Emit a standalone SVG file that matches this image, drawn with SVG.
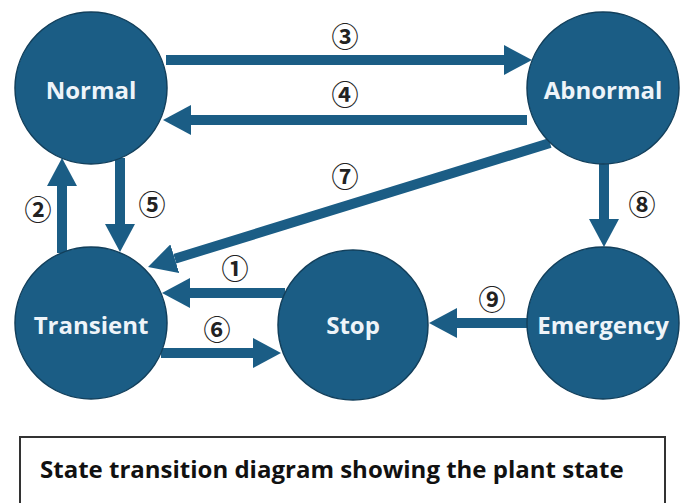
<svg xmlns="http://www.w3.org/2000/svg" width="681" height="503" viewBox="0 0 681 503">
<style>
.node{fill:#1b5d85;stroke:#123f5b;stroke-width:1.5}
.nt{font-family:"Open Sans","Noto Sans",sans-serif;font-weight:700;font-size:24px;fill:#eef4f9;text-anchor:middle;dominant-baseline:central}
.edge{stroke:#1b5d85;stroke-width:10;fill:none;marker-end:url(#ah)}
.lbl{font-family:"Noto Sans CJK JP","DejaVu Sans",sans-serif;font-weight:700;font-size:27px;fill:#222;text-anchor:middle;dominant-baseline:central}
.cap{font-family:"Open Sans","Noto Sans",sans-serif;font-weight:700;font-size:24px;fill:#111}
</style>
<defs>
<marker id="ah" viewBox="0 0 28 30" refX="0" refY="15" markerUnits="userSpaceOnUse" markerWidth="28" markerHeight="30" orient="auto">
<path d="M0,0 L28,15 L0,30 z" fill="#1b5d85"/>
</marker>
</defs>
<rect width="681" height="503" fill="#ffffff"/>
<g id="connectors">
<line class="edge" x1="166" y1="60" x2="504" y2="60"/>
<line class="edge" x1="527" y1="120" x2="191" y2="120"/>
<line class="edge" x1="62" y1="253" x2="62" y2="186"/>
<line class="edge" x1="120" y1="158" x2="120" y2="224"/>
<line class="edge" x1="550" y1="143" x2="174.8" y2="258.7"/>
<line class="edge" x1="285" y1="293" x2="190" y2="293"/>
<line class="edge" x1="161" y1="353" x2="253" y2="353"/>
<line class="edge" x1="604" y1="164" x2="604" y2="219"/>
<line class="edge" x1="527" y1="323" x2="457" y2="323"/>
</g>
<g id="labels">
<text class="lbl" x="345" y="35">③</text>
<text class="lbl" x="345" y="93">④</text>
<text class="lbl" x="345" y="175">⑦</text>
<text class="lbl" x="38" y="208">②</text>
<text class="lbl" x="152" y="203">⑤</text>
<text class="lbl" x="642" y="203">⑧</text>
<text class="lbl" x="235" y="267">①</text>
<text class="lbl" x="217" y="328">⑥</text>
<text class="lbl" x="492" y="298">⑨</text>
</g>
<g id="node-normal">
<circle class="node" cx="91" cy="88" r="76"/>
<text class="nt" x="91" y="89">Normal</text>
</g>
<g id="node-abnormal">
<circle class="node" cx="603" cy="88" r="76"/>
<text class="nt" x="603" y="89">Abnormal</text>
</g>
<g id="node-transient">
<circle class="node" cx="91" cy="323" r="76"/>
<text class="nt" x="91" y="324">Transient</text>
</g>
<g id="node-stop">
<circle class="node" cx="353" cy="325" r="75"/>
<text class="nt" x="353" y="324">Stop</text>
</g>
<g id="node-emergency">
<circle class="node" cx="603" cy="323" r="76"/>
<text class="nt" x="603" y="324">Emergency</text>
</g>
<g id="caption">
<rect x="20" y="437" width="645" height="80" fill="none" stroke="#333" stroke-width="2"/>
<text class="cap" x="40" y="478">State transition diagram showing the plant state</text>
</g>
</svg>
